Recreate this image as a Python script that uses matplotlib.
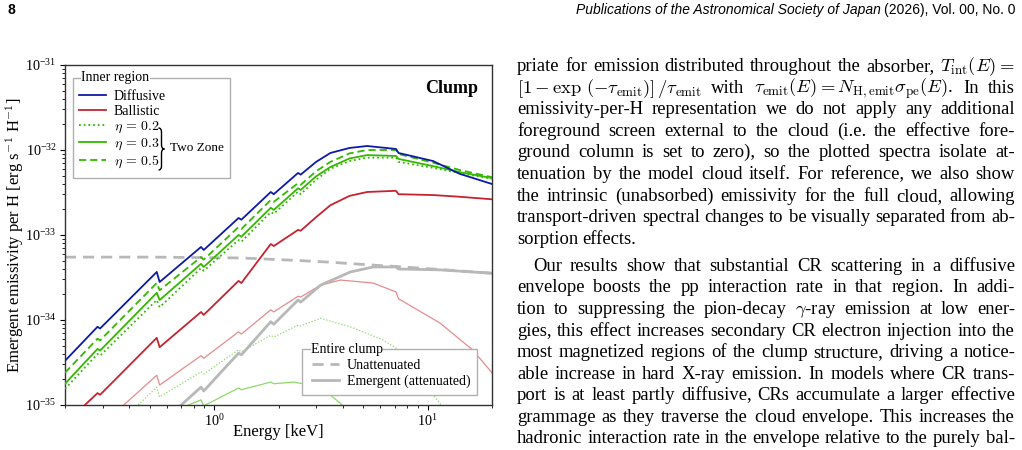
import numpy as np
import matplotlib
matplotlib.use('Agg')
import matplotlib.pyplot as plt
from matplotlib.patches import Rectangle, PathPatch
from matplotlib.path import Path
from matplotlib.transforms import IdentityTransform

plt.rcParams['font.family'] = 'serif'
plt.rcParams['font.serif'] = ['Liberation Serif', 'DejaVu Serif']
plt.rcParams['mathtext.fontset'] = 'cm'

# ---------------- data (energies in keV, log10 emissivity per H) ----------------
E_main = [0.2, 0.284, 0.292, 0.538, 0.555, 0.867, 0.893, 1.30, 1.34, 1.84, 1.90,
          2.47, 2.54, 3.0, 3.5, 4.3, 5.2, 7.1, 7.3, 10.6, 14.1, 20.0]
log_diffusive = [-34.48, -34.08, -34.10, -33.435, -33.553, -33.141, -33.176, -32.80, -32.82,
                 -32.494, -32.52, -32.27, -32.29, -32.14, -32.035, -31.976, -31.953, -31.988,
                 -32.035, -32.13, -32.28, -32.40]
log_ballistic = [-35.22, -34.86, -34.88, -34.21, -34.32, -33.906, -33.94, -33.54, -33.565,
                 -33.106, -33.13, -32.94, -32.95, -32.79, -32.65, -32.54, -32.494, -32.48,
                 -32.52, -32.53, -32.55, -32.58]
log_eta02 = [-34.81, -34.40, -34.42, -33.765, -33.85, -33.39, -33.42, -33.06, -33.08, -32.73,
             -32.75, -32.49, -32.52, -32.35, -32.22, -32.13, -32.09, -32.09, -32.14, -32.21,
             -32.27, -32.34]
log_eta03 = [-34.75, -34.34, -34.36, -33.68, -33.765, -33.34, -33.376, -33.0, -33.02, -32.68,
             -32.705, -32.45, -32.47, -32.31, -32.20, -32.10, -32.06, -32.07, -32.105, -32.19,
             -32.26, -32.33]
log_eta05 = [-34.62, -34.22, -34.24, -33.565, -33.65, -33.26, -33.29, -32.906, -32.93, -32.588,
             -32.61, -32.39, -32.41, -32.25, -32.14, -32.04, -32.0, -32.0, -32.047, -32.15,
             -32.235, -32.32]

E_unatt = [0.2, 0.5, 1.34, 2.47, 3.5, 5.2, 7.1, 12.0, 20.0]
log_unatt = [-33.26, -33.26, -33.27, -33.30, -33.32, -33.35, -33.37, -33.41, -33.45]

E_emerg = [0.6, 0.70, 0.867, 0.893, 1.30, 1.34, 1.84, 1.90, 2.47, 2.54, 3.15, 4.34, 5.55,
           7.1, 7.3, 11.4, 20.0]
log_emerg = [-35.15, -35.0, -34.79, -34.835, -34.39, -34.41, -34.02, -34.05, -33.765, -33.79,
             -33.59, -33.435, -33.376, -33.376, -33.40, -33.41, -33.45]

E_thin_red = [0.35, 0.377, 0.538, 0.555, 0.867, 0.893, 1.30, 1.34, 1.84, 1.90, 2.47, 2.54,
              3.15, 3.9, 5.55, 7.1, 7.3, 11.4, 16.2, 20.0]
log_thin_red = [-35.1, -35.0, -34.65, -34.765, -34.42, -34.45, -34.14, -34.165, -33.88, -33.905,
                -33.72, -33.73, -33.59, -33.53, -33.565, -33.67, -33.75, -34.035, -34.35, -34.62]

E_thin_dot = [0.40, 0.44, 0.538, 0.555, 0.867, 0.893, 1.30, 1.34, 1.84, 1.90, 2.47, 2.54,
              3.15, 4.34, 6.18, 7.1, 7.3, 9.18, 11.4, 12.5]
log_thin_dot = [-35.15, -35.0, -34.79, -34.906, -34.61, -34.635, -34.35, -34.376, -34.18, -34.20,
                -34.06, -34.07, -33.98, -34.08, -34.235, -34.33, -34.41, -34.68, -34.98, -35.12]

E_thin_sol = [0.72, 0.757, 0.867, 0.893, 1.30, 1.34, 1.84, 1.90, 2.36, 3.15, 3.9, 4.3]
log_thin_sol = [-35.08, -35.0, -34.94, -35.01, -34.80, -34.82, -34.73, -34.75, -34.73, -34.79,
                -34.98, -35.1]

# ---------------- colours ----------------
C_BLUE = '#0d1aa6'
C_RED = '#c42430'
C_GREEN = '#33b800'
C_PINK = '#e58c8c'
C_LGREEN = '#8ed86a'
C_GRAY = '#b8b8b8'

W, H = 1022, 450
fig = plt.figure(figsize=(W / 100, H / 100), dpi=100)
ax_l, ax_r, ax_t, ax_b = 65, 492, 65, 405
ax = fig.add_axes([ax_l / W, 1 - ax_b / H, (ax_r - ax_l) / W, (ax_b - ax_t) / H])


def v(a):
    return 10.0 ** np.asarray(a)


ax.plot(E_thin_red, v(log_thin_red), color=C_PINK, lw=0.9, zorder=2)
ax.plot(E_thin_dot, v(log_thin_dot), color=C_LGREEN, lw=0.9, ls=(0, (1, 1.5)), zorder=2)
ax.plot(E_thin_sol, v(log_thin_sol), color=C_LGREEN, lw=0.9, zorder=2)
l_un, = ax.plot(E_unatt, v(log_unatt), color=C_GRAY, lw=2.0, ls=(0, (4, 2.5)), zorder=2)
l_em, = ax.plot(E_emerg, v(log_emerg), color=C_GRAY, lw=2.0, zorder=2)
l_red, = ax.plot(E_main, v(log_ballistic), color=C_RED, lw=1.3, zorder=3)
l_d2, = ax.plot(E_main, v(log_eta02), color=C_GREEN, lw=1.3, ls=(0, (1, 1.6)), zorder=3)
l_d3, = ax.plot(E_main, v(log_eta03), color=C_GREEN, lw=1.3, zorder=3)
l_d5, = ax.plot(E_main, v(log_eta05), color=C_GREEN, lw=1.3, ls=(0, (4, 2.2)), zorder=3)
l_blue, = ax.plot(E_main, v(log_diffusive), color=C_BLUE, lw=1.3, zorder=3)

ax.set_xscale('log')
ax.set_yscale('log')
ax.set_xlim(0.2, 20)
ax.set_ylim(1e-35, 1e-31)
ax.set_xlabel('Energy [keV]', fontsize=12, va='center')
ax.xaxis.set_label_coords(0.5, -0.080)
ax.set_ylabel(r'Emergent emissivity per H [erg s$^{-1}$ H$^{-1}$]', fontsize=12,
              va='center')
ax.yaxis.set_label_coords(-0.118, 0.5)
ax.tick_params(which='major', labelsize=10.2, length=3.5, width=0.8, pad=2.5)
ax.tick_params(which='minor', length=2, width=0.6)
for s in ax.spines.values():
    s.set_color('#333333')
    s.set_linewidth(1.0)

ax.text(0.967, 0.93, 'Clump', transform=ax.transAxes, ha='right', va='center',
        fontsize=13, fontweight='bold')


def axc(px, py):
    return ((px - ax_l) / (ax_r - ax_l), 1 - (py - ax_t) / (ax_b - ax_t))


def frame_box(x0, y0, x1, y1, title, tx):
    (ax0, ay1) = axc(x0, y0)
    (ax1, ay0) = axc(x1, y1)
    ax.add_patch(Rectangle((ax0, ay0), ax1 - ax0, ay1 - ay0, transform=ax.transAxes,
                           facecolor='white', edgecolor='#b0b0b0', lw=1.0, zorder=5))
    tx_, ty_ = axc(tx, y0)
    ax.text(tx_, ty_, title, transform=ax.transAxes, ha='left', va='center', fontsize=10,
            zorder=7, bbox=dict(facecolor='white', edgecolor='none', pad=0.3))


# Inner region legend
frame_box(73, 78, 230, 178, 'Inner region', 81)
lx, ly = axc(79, 90)
leg1 = ax.legend([l_blue, l_red, l_d2, l_d3, l_d5],
                 ['Diffusive', 'Ballistic', r'$\eta\,=\,0.2$', r'$\eta\,=\,0.3$',
                  r'$\eta\,=\,0.5$'],
                 loc='upper left', bbox_to_anchor=(lx, ly), frameon=False, fontsize=10,
                 borderpad=0, borderaxespad=0, handlelength=1.95, handletextpad=0.55,
                 labelspacing=0.12)
leg1.set_zorder(6)
ax.add_artist(leg1)

# brace
bx0, bw = 158.5, 6.0
byt, byb = 128.0, 170.0
bym = 0.5 * (byt + byb)
r = 4.0
pts_px = [
    (bx0, byt), (bx0 + bw / 2, byt), (bx0 + bw / 2, byt + r),
    (bx0 + bw / 2, bym - r),
    (bx0 + bw / 2, bym), (bx0 + bw, bym),
    (bx0 + bw / 2, bym), (bx0 + bw / 2, bym + r),
    (bx0 + bw / 2, byb - r),
    (bx0 + bw / 2, byb), (bx0, byb),
]
codes = [Path.MOVETO, Path.CURVE3, Path.CURVE3, Path.LINETO, Path.CURVE3, Path.CURVE3,
         Path.CURVE3, Path.CURVE3, Path.LINETO, Path.CURVE3, Path.CURVE3]
bpath = Path([axc(*p) for p in pts_px], codes)
ax.add_patch(PathPatch(bpath, transform=ax.transAxes, facecolor='none', edgecolor='black',
                       lw=1.0, zorder=8))
tx_, ty_ = axc(170, 148)
ax.text(tx_, ty_, 'Two Zone', transform=ax.transAxes, ha='left', va='center', fontsize=9.5,
        zorder=8)

# Entire clump legend
frame_box(302, 349, 477, 395, 'Entire clump', 311)
lx, ly = axc(312, 359)
leg2 = ax.legend([l_un, l_em], ['Unattenuated', 'Emergent (attenuated)'],
                 loc='upper left', bbox_to_anchor=(lx, ly), frameon=False, fontsize=10,
                 borderpad=0, borderaxespad=0, handlelength=1.95, handletextpad=0.55,
                 labelspacing=0.2)
leg2.set_zorder(6)

# ---------------- page text ----------------
fig.canvas.draw()
rend = fig.canvas.get_renderer()
ID = IdentityTransform()

fig.text(8, H - 14, '8', transform=ID, ha='left', va='baseline', fontsize=10,
         fontweight='bold', family='Liberation Sans')
t_up = fig.text(1015, H - 14, '(2026), Vol. 00, No. 0', transform=ID, ha='right',
                va='baseline', fontsize=10, family='Liberation Sans')
wup = t_up.get_window_extent(rend).width
fig.text(1015 - wup - 3, H - 14, 'Publications of the Astronomical Society of Japan',
         transform=ID, ha='right', va='baseline', fontsize=10, family='Liberation Sans',
         style='italic')

para_lines = [
    (r'priate for emission distributed throughout the absorber, $T_{\mathrm{int}}(E)=$', True, 0),
    (r'$[1-\exp\,(-\tau_{\mathrm{emit}})]\,/\tau_{\mathrm{emit}}$ with $\tau_{\mathrm{emit}}(E)=N_{\mathrm{H,emit}}\sigma_{\mathrm{pe}}(E)$. In this', True, 0),
    ('emissivity-per-H representation we do not apply any additional', True, 0),
    ('foreground screen external to the cloud (i.e.  the effective fore-', True, 0),
    ('ground column is set to zero), so the plotted spectra isolate at-', True, 0),
    ('tenuation by the model cloud itself. For reference, we also show', True, 0),
    ('the intrinsic (unabsorbed) emissivity for the full cloud, allowing', True, 0),
    ('transport-driven spectral changes to be visually separated from ab-', True, 0),
    ('sorption effects.', False, 0),
    ('Our results show that substantial CR scattering in a diffusive', True, 16),
    ('envelope boosts the pp interaction rate in that region.  In addi-', True, 0),
    (r'tion to suppressing the pion-decay $\gamma$-ray emission at low ener-', True, 0),
    ('gies, this effect increases secondary CR electron injection into the', True, 0),
    ('most magnetized regions of the clump structure, driving a notice-', True, 0),
    ('able increase in hard X-ray emission. In models where CR trans-', True, 0),
    ('port is at least partly diffusive, CRs accumulate a larger effective', True, 0),
    ('grammage as they traverse the cloud envelope. This increases the', True, 0),
    ('hadronic interaction rate in the envelope relative to the purely bal-', True, 0),
]
line_centers = [66, 88, 109, 131, 152, 174, 196, 217, 239, 266, 287, 309, 331, 352, 374,
                395, 417, 438]
PX0, PX1 = 517, 1015
for (txt, just, indent), yc in zip(para_lines, line_centers):
    ybase = H - (yc + 5)
    words = txt.split()
    tobjs = [fig.text(0, ybase, w, transform=ID, ha='left', va='baseline', fontsize=13.4)
             for w in words]
    widths = [t.get_window_extent(rend).width for t in tobjs]
    x0 = PX0 + indent
    total = sum(widths)
    if just and len(words) > 1:
        gap = (PX1 - x0 - total) / (len(words) - 1)
    else:
        gap = 4.0
    x = x0
    for t, w in zip(tobjs, widths):
        t.set_x(x)
        x += w + gap

fig.savefig('out.png', dpi=100)
